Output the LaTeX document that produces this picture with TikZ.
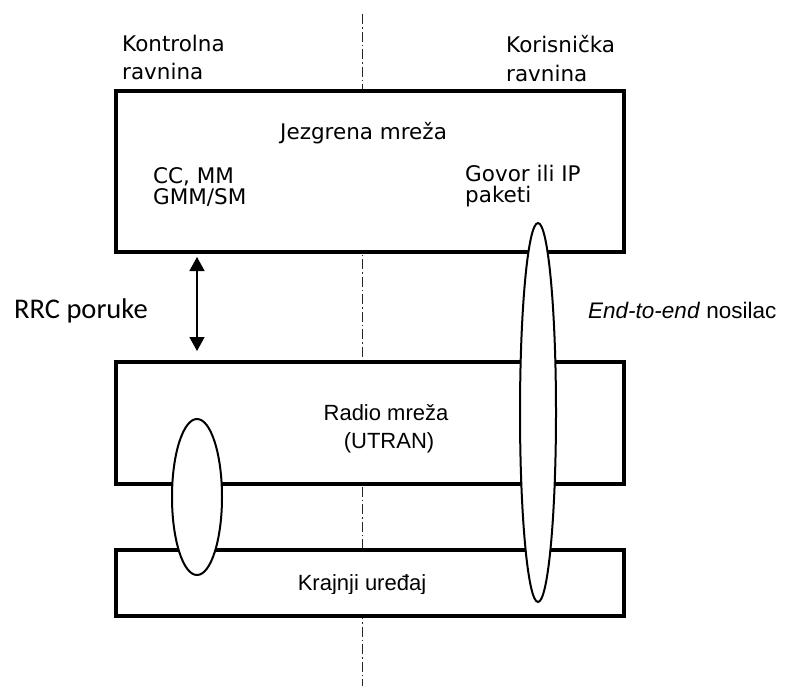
\documentclass[tikz,border=0pt]{standalone}
\usepackage{fontspec}
\setmainfont{Liberation Sans}
\newfontfamily\pixfont{DejaVu Sans}
\newfontfamily\carlitofont{Carlito}
\usetikzlibrary{arrows.meta,shapes.geometric}
\begin{document}
\begin{tikzpicture}[x=1pt,y=-1pt,
  boxst/.style={draw=black, line width=4.5pt, fill=white, rectangle, inner sep=0pt},
  ellst/.style={draw=black, line width=2pt, fill=white, ellipse, inner sep=0pt},
  pixtext/.style={font=\pixfont\fontsize{21.5}{22}\selectfont, inner sep=0pt, anchor=base west},
  armtext/.style={font=\fontsize{22}{26}\selectfont, inner sep=0pt, anchor=base},
  dashline/.style={draw=black!85, line width=1pt, dash pattern=on 10pt off 3pt on 1.5pt off 3pt},
  arrst/.style={line width=1.4pt, {Triangle[width=15pt,length=14pt]}-{Triangle[width=15pt,length=14pt]}}
]
\useasboundingbox (0,0) rectangle (787,686);

% dash-dot separator
\coordinate (dTop) at (362,14);
\coordinate (dBot) at (362,686);
\draw[dashline] (dTop) -- (dBot);

% boxes
\node[boxst, minimum width=508pt, minimum height=161pt] (core) at (370,171.5) {};
\node[boxst, minimum width=508pt, minimum height=122pt] (radio) at (370,423) {};
\node[boxst, minimum width=508pt, minimum height=66pt] (ue) at (370,583) {};

% RRC arrow
\coordinate (rrcTop) at (197,257);
\coordinate (rrcBot) at (197,351);
\draw[arrst] (rrcTop) -- (rrcBot);

% ellipses
\node[ellst, minimum width=50pt, minimum height=156pt] (ellL) at (197,497) {};
\node[ellst, minimum width=36pt, minimum height=379pt] (ellR) at (538,412.5) {};

% plane labels
\node[pixtext] (kon1) at (122,51) {Kontrolna};
\node[pixtext] (kon2) at (122,79) {ravnina};
\node[pixtext] (kor1) at (506,52) {Korisnička};
\node[pixtext] (kor2) at (506,81) {ravnina};

% core network texts
\node[pixtext] (jez) at (280,139) {Jezgrena mreža};
\node[pixtext] (cc) at (153,183) {CC, MM};
\node[pixtext] (gmm) at (153,204) {GMM/SM};
\node[pixtext] (gov) at (465,181) {Govor ili IP};
\node[pixtext] (pak) at (465,202) {paketi};

% radio network texts
\node[armtext] (rad1) at (386,420) {Radio mreža};
\node[armtext] (rad2) at (389,448) {(UTRAN)};

% end device text (descenders clipped as in the picture)
\begin{scope}
  \clip (270,560) rectangle (450,593);
  \node[armtext] (kraj) at (362,590) {Krajnji uređaj};
\end{scope}

% side labels
\node[font=\carlitofont\fontsize{28.5}{32}\selectfont, inner sep=0pt, anchor=base west] (rrc) at (14,318) {RRC poruke};
\node[font=\fontsize{22.5}{26}\selectfont, inner sep=0pt, anchor=base west] (e2e) at (588,318) {\textit{End-to-end} nosilac};
\end{tikzpicture}
\end{document}
